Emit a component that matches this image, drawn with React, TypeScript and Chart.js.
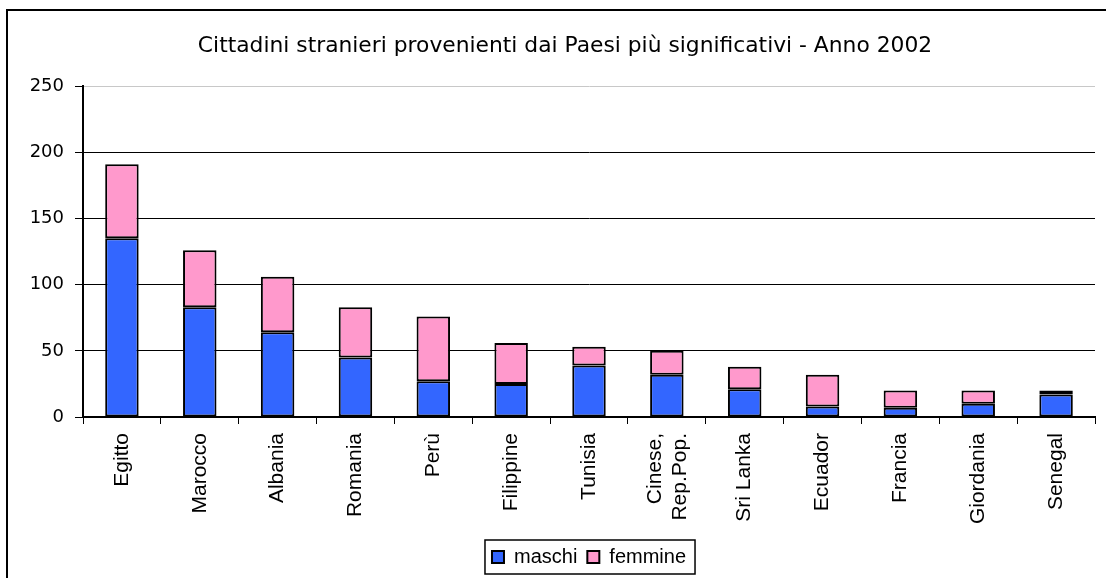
import React, { useEffect, useRef } from "react";
import { Chart, registerables } from "chart.js";

Chart.register(...registerables);

const titleText = "Cittadini stranieri provenienti dai Paesi più significativi - Anno 2002";
const categories: (string | string[])[] = [
  "Egitto",
  "Marocco",
  "Albania",
  "Romania",
  "Perù",
  "Filippine",
  "Tunisia",
  ["Cinese,", "Rep.Pop."],
  "Sri Lanka",
  "Ecuador",
  "Francia",
  "Giordania",
  "Senegal",
];
const maschi = [135, 83, 64, 45, 27, 25, 39, 32, 21, 8, 7, 10, 17];
const femmine = [56, 43, 42, 38, 49, 31, 14, 18, 17, 24, 13, 10, 3];
const yMin = 0;
const yMax = 250;
const yStep = 50;

const framePlugin = {
  id: "frame",
  afterLayout(chart: any) {
    const tb = chart.titleBlock;
    if (tb) {
      tb.left += 27;
    }
  },
  beforeDraw(chart: any) {
    const ctx = chart.ctx;
    ctx.save();
    ctx.fillStyle = "#ffffff";
    ctx.fillRect(0, 0, chart.width, chart.height);
    ctx.restore();
    // center multi-line rotated category labels on their tick
    const xs = chart.scales.x;
    if (xs && xs.getLabelItems) {
      const items = xs.getLabelItems();
      for (const it of items) {
        if (Array.isArray(it.label) && !it._shifted) {
          const n = it.label.length;
          const lh = 21 * 1.2;
          it.options.translation[0] -= ((n - 1) * lh) / 2 - 1;
          it._shifted = true;
        }
      }
    }
  },
  afterDraw(chart: any) {
    const ctx = chart.ctx;
    ctx.save();
    ctx.strokeStyle = "#000000";
    ctx.lineWidth = 2;
    ctx.beginPath();
    ctx.moveTo(7, chart.height + 5);
    ctx.lineTo(7, 10);
    ctx.lineTo(chart.width + 5, 10);
    ctx.stroke();
    const lg = chart.legend;
    if (lg && lg.legendHitBoxes && lg.legendHitBoxes.length) {
      const hb = lg.legendHitBoxes;
      let minX = Infinity, maxX = -Infinity, minY = Infinity, maxY = -Infinity;
      for (const b of hb) {
        minX = Math.min(minX, b.left);
        maxX = Math.max(maxX, b.left + b.width);
        minY = Math.min(minY, b.top);
        maxY = Math.max(maxY, b.top + b.height);
      }
      ctx.lineWidth = 1.5;
      ctx.strokeRect(minX - 7, minY - 7, maxX - minX + 16, maxY - minY + 14);
    }
    ctx.restore();
  },
};

export default function App() {
  const ref = useRef<HTMLCanvasElement | null>(null);
  useEffect(() => {
    if (!ref.current) return;
    const chart = new Chart(ref.current, {
      type: "bar",
      data: {
        labels: categories,
        datasets: [
          {
            label: "maschi",
            data: maschi,
            backgroundColor: "#3366FF",
            borderColor: "#000000",
            borderWidth: 2,
            borderSkipped: false,
            barPercentage: 0.43,
            categoryPercentage: 1,
          },
          {
            label: "femmine",
            data: femmine,
            backgroundColor: "#FF99CC",
            borderColor: "#000000",
            borderWidth: 2,
            borderSkipped: false,
            barPercentage: 0.43,
            categoryPercentage: 1,
          },
        ],
      },
      options: {
        animation: false,
        responsive: false,
        maintainAspectRatio: false,
        layout: { padding: { left: 8, right: 11, top: 10, bottom: 1 } },
        plugins: {
          title: {
            display: true,
            text: titleText,
            color: "#000000",
            font: { family: "'DejaVu Sans'", size: 21.8, weight: "normal" },
            padding: { top: 23, bottom: 27 },
          },
          legend: {
            display: true,
            position: "bottom",
            fullSize: false,
            labels: {
              color: "#000000",
              font: { family: "'Liberation Sans'", size: 20 },
              boxWidth: 12,
              boxHeight: 12,
              padding: 10,
            },
          },
          tooltip: { enabled: false },
        },
        scales: {
          x: {
            stacked: true,
            grid: {
              display: true,
              drawOnChartArea: false,
              drawTicks: true,
              tickLength: 7,
              color: "#000000",
              offset: true,
            },
            border: { display: true, color: "#000000", width: 2 },
            ticks: {
              color: "#000000",
              font: { family: "'Liberation Sans'", size: 21 },
              minRotation: 90,
              maxRotation: 90,
              autoSkip: false,
              padding: 9,
            },
            afterFit(scale: any) {
              scale.height = 120;
            },
          },
          y: {
            stacked: true,
            min: yMin,
            max: yMax,
            ticks: {
              stepSize: yStep,
              color: "#000000",
              font: { family: "'DejaVu Sans'", size: 18 },
              padding: 11,
            },
            grid: {
              color: (c: any) => (c.tick && c.tick.value === yMax ? "#c8c8c8" : "#000000"),
              tickColor: "#000000",
              lineWidth: 1,
              tickLength: 8,
            },
            border: { display: true, color: "#000000", width: 2 },
            afterFit(scale: any) {
              scale.width = 75;
            },
          },
        },
      },
      plugins: [framePlugin],
    });
    return () => chart.destroy();
  }, []);
  return (
    <div style={{ position: "absolute", left: 0, top: 0, width: 1106, height: 578 }}>
      <canvas ref={ref} width={1106} height={578} style={{ display: "block" }} />
    </div>
  );
}
